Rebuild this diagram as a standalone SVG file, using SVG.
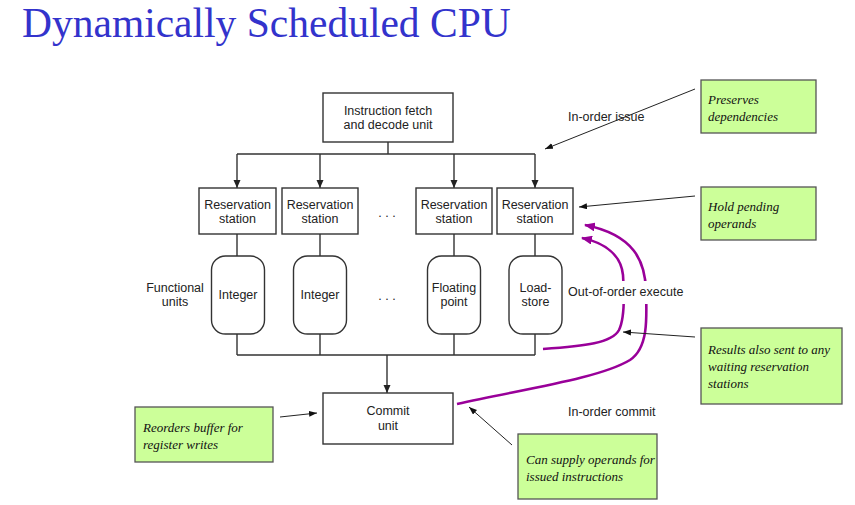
<svg xmlns="http://www.w3.org/2000/svg" width="855" height="505" viewBox="0 0 855 505">
<style>
.bx{fill:#fff;stroke:#333;stroke-width:1.4}
.fu{fill:#fff;stroke:#333;stroke-width:1.4}
.t{font-family:"Liberation Sans",Arial,sans-serif;font-size:12.5px;fill:#222;text-anchor:middle}
.lb{font-family:"Liberation Sans",Arial,sans-serif;font-size:12.5px;fill:#222}
.note{fill:#ccff99;stroke:#555;stroke-width:1.3}
.nt{font-family:"Liberation Serif","Times New Roman",serif;font-style:italic;font-size:13px;fill:#111}
.ln{fill:none;stroke:#333;stroke-width:1.4}
.an{fill:none;stroke:#222;stroke-width:1}
.pp{fill:none;stroke:#990099;stroke-width:2.6}
</style>
<defs>
<marker id="ah" markerUnits="userSpaceOnUse" markerWidth="8" markerHeight="8" refX="8" refY="3.5" orient="auto">
<path d="M0,0 L8,3.5 L0,7 z" fill="#222"/>
</marker>
<marker id="sm" markerUnits="userSpaceOnUse" markerWidth="8" markerHeight="7" refX="8" refY="3" orient="auto">
<path d="M0,0 L8,3 L0,6 z" fill="#111"/>
</marker>
<marker id="pa" markerUnits="userSpaceOnUse" markerWidth="11" markerHeight="9" refX="10" refY="4.5" orient="auto">
<path d="M0,0 L11,4.5 L0,9 z" fill="#990099"/>
</marker>
</defs>
<rect width="855" height="505" fill="#fff"/>
<text x="22" y="37" font-family="'Liberation Serif','Times New Roman',serif" font-size="41.5" fill="#3333cc">Dynamically Scheduled CPU</text>

<g id="connectors">
<path class="ln" d="M388,142 V154 M237,154 H535"/>
<path class="ln" d="M237,154 V188" marker-end="url(#ah)"/>
<path class="ln" d="M320,154 V188" marker-end="url(#ah)"/>
<path class="ln" d="M454,154 V188" marker-end="url(#ah)"/>
<path class="ln" d="M535,154 V188" marker-end="url(#ah)"/>
<path class="ln" d="M237,234 V256 M320,234 V256 M454,234 V256 M535,234 V256"/>
<path class="ln" d="M237,334 V355 M320,334 V355 M454,334 V355 M535,334 V355 M237,355 H535"/>
<path class="ln" d="M387,355 V393" marker-end="url(#ah)"/>
<path class="pp" d="M543,349 C585,346 612,343 619,330 C625,318 624,290 623,275 C621,255 605,243 582,238" marker-end="url(#pa)"/>
<path class="pp" d="M457,404 C530,388 600,378 630,360 C648,348 647,320 646,290 C645,262 635,235 585,225" marker-end="url(#pa)"/>
<path class="an" d="M695,89 L545,149" marker-end="url(#sm)"/>
<path class="an" d="M695,196 L579,207" marker-end="url(#sm)"/>
<path class="an" d="M695,337 L623,332" marker-end="url(#sm)"/>
<path class="an" d="M280,417 L317,413" marker-end="url(#sm)"/>
<path class="an" d="M512,445 L469,407" marker-end="url(#sm)"/>
</g>

<g id="labels">
<text class="lb" x="568" y="121">In-order issue</text>
<rect x="566" y="281" width="120" height="23" fill="#fff"/>
<text class="lb" x="568" y="296">Out-of-order execute</text>
<text class="lb" x="568" y="416">In-order commit</text>
<text class="t" x="175" y="291.5">Functional</text>
<text class="t" x="175" y="306">units</text>
<text class="t" x="387" y="217">. . .</text>
<text class="t" x="387" y="300">. . .</text>
</g>

<g id="fetch">
<rect class="bx" x="323" y="93" width="130" height="49"/>
<text class="t" x="388" y="114.5">Instruction fetch</text>
<text class="t" x="388" y="128.5">and decode unit</text>
</g>
<g id="rs1">
<rect class="bx" x="199" y="188" width="77" height="46"/>
<text class="t" x="237.5" y="208.5">Reservation</text>
<text class="t" x="237.5" y="222.5">station</text>
</g>
<g id="rs2">
<rect class="bx" x="282" y="188" width="76" height="46"/>
<text class="t" x="320" y="208.5">Reservation</text>
<text class="t" x="320" y="222.5">station</text>
</g>
<g id="rs3">
<rect class="bx" x="416" y="188" width="76" height="46"/>
<text class="t" x="454" y="208.5">Reservation</text>
<text class="t" x="454" y="222.5">station</text>
</g>
<g id="rs4">
<rect class="bx" x="497" y="188" width="76" height="46"/>
<text class="t" x="535" y="208.5">Reservation</text>
<text class="t" x="535" y="222.5">station</text>
</g>
<g id="fu1">
<rect class="fu" x="211.5" y="256" width="53" height="78" rx="14"/>
<text class="t" x="238" y="298.5">Integer</text>
</g>
<g id="fu2">
<rect class="fu" x="293.5" y="256" width="53" height="78" rx="14"/>
<text class="t" x="320" y="298.5">Integer</text>
</g>
<g id="fu3">
<rect class="fu" x="427.5" y="256" width="53" height="78" rx="14"/>
<text class="t" x="454" y="291.5">Floating</text>
<text class="t" x="454" y="306">point</text>
</g>
<g id="fu4">
<rect class="fu" x="509" y="256" width="53" height="78" rx="14"/>
<text class="t" x="535.5" y="291.5">Load-</text>
<text class="t" x="535.5" y="306">store</text>
</g>
<g id="commit">
<rect class="bx" x="323" y="393" width="130" height="51"/>
<text class="t" x="388" y="414.5">Commit</text>
<text class="t" x="388" y="429.5">unit</text>
</g>

<g id="note1">
<rect class="note" x="701" y="80" width="115" height="53"/>
<text class="nt" x="708" y="104">Preserves</text>
<text class="nt" x="708" y="121">dependencies</text>
</g>
<g id="note2">
<rect class="note" x="701" y="187" width="115" height="53"/>
<text class="nt" x="708" y="211">Hold pending</text>
<text class="nt" x="708" y="228">operands</text>
</g>
<g id="note3">
<rect class="note" x="701" y="328" width="141" height="76"/>
<text class="nt" x="708" y="354">Results also sent to any</text>
<text class="nt" x="708" y="371">waiting reservation</text>
<text class="nt" x="708" y="388">stations</text>
</g>
<g id="note4">
<rect class="note" x="135" y="407" width="138" height="55"/>
<text class="nt" x="143" y="431.5">Reorders buffer for</text>
<text class="nt" x="143" y="448.5">register writes</text>
</g>
<g id="note5">
<rect class="note" x="518" y="434" width="139" height="65"/>
<text class="nt" x="526" y="464">Can supply operands for</text>
<text class="nt" x="526" y="481">issued instructions</text>
</g>
</svg>
